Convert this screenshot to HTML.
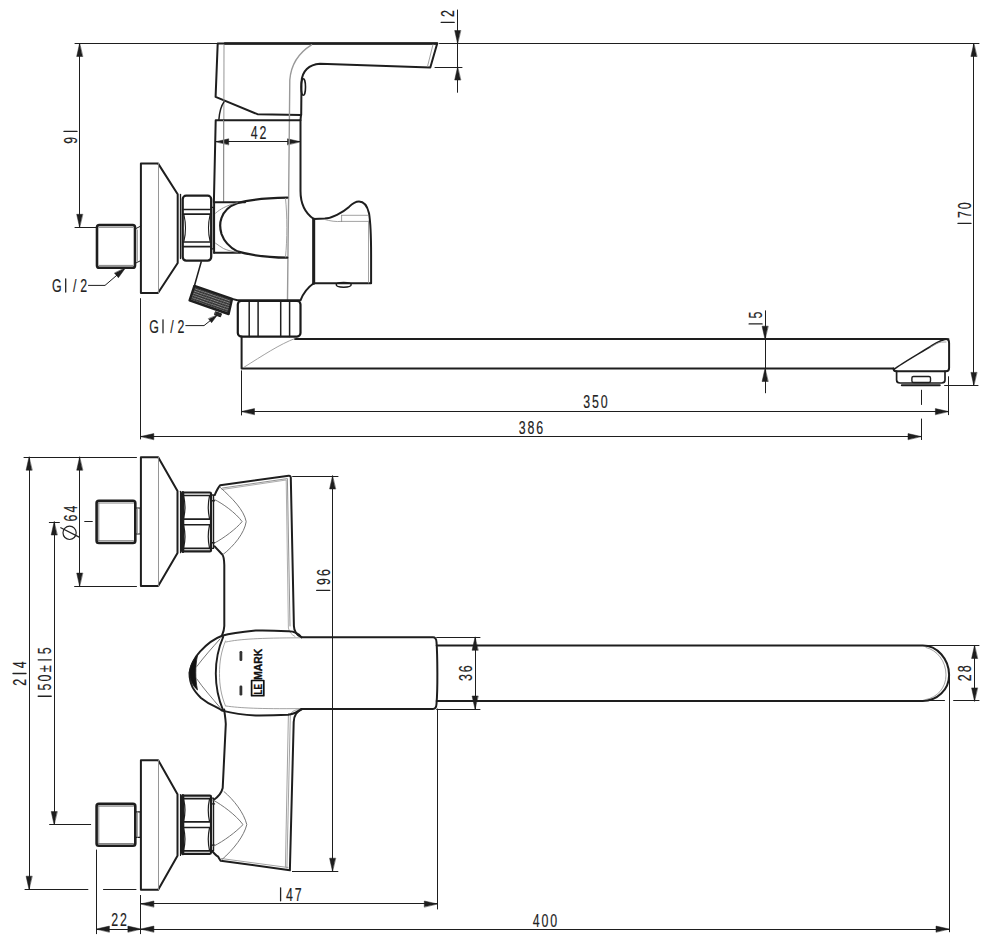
<!DOCTYPE html>
<html><head><meta charset="utf-8"><style>
html,body{margin:0;padding:0;background:#fff;}
svg{display:block;}
</style></head><body>
<svg width="990" height="949" viewBox="0 0 990 949" stroke-linecap="round" stroke-linejoin="round">
<defs><pattern id="knurl" width="2.6" height="2.3" patternUnits="userSpaceOnUse" patternTransform="rotate(19)"><rect width="2.6" height="2.3" fill="#333"/><rect x="0" y="0" width="2.6" height="0.8" fill="#8a8a8a"/><rect x="0" y="0" width="0.6" height="2.3" fill="#555"/></pattern></defs>
<rect width="990" height="949" fill="#fff"/>
<line x1="75" y1="43.5" x2="217" y2="43.5" stroke="#1e1e1e" stroke-width="1.0"/>
<line x1="439.5" y1="43.5" x2="979" y2="43.5" stroke="#1e1e1e" stroke-width="1.0"/>
<line x1="79.5" y1="43.5" x2="79.5" y2="227.3" stroke="#1e1e1e" stroke-width="1.0"/>
<path d="M79.6,43.5 L76.7,56.5 L82.5,56.5Z" fill="#1e1e1e" stroke="#1e1e1e" stroke-width="0.5"/>
<path d="M79.6,227.3 L76.7,214.3 L82.5,214.3Z" fill="#1e1e1e" stroke="#1e1e1e" stroke-width="0.5"/>
<line x1="75" y1="227.5" x2="96" y2="227.5" stroke="#1e1e1e" stroke-width="1.0"/>
<g transform="translate(70.5,135.8) rotate(-90)"><text transform="translate(-4.40,0) scale(0.68,1)" x="0" y="6.50" font-size="18.2" text-anchor="middle" fill="#222" stroke="#222" stroke-width="0.18" font-family="Liberation Sans, sans-serif">9</text><line x1="4.40" y1="-6.50" x2="4.40" y2="6.50" stroke="#222" stroke-width="1.3"/></g>
<line x1="457.5" y1="10" x2="457.5" y2="92.3" stroke="#1e1e1e" stroke-width="1.0"/>
<path d="M457.6,43.5 L454.7,30.5 L460.5,30.5Z" fill="#1e1e1e" stroke="#1e1e1e" stroke-width="0.5"/>
<path d="M457.6,67.0 L454.7,80.0 L460.5,80.0Z" fill="#1e1e1e" stroke="#1e1e1e" stroke-width="0.5"/>
<line x1="435" y1="67.5" x2="462" y2="67.5" stroke="#1e1e1e" stroke-width="1.0"/>
<g transform="translate(447.7,18.0) rotate(-90)"><line x1="-4.40" y1="-6.50" x2="-4.40" y2="6.50" stroke="#222" stroke-width="1.3"/><text transform="translate(4.40,0) scale(0.68,1)" x="0" y="6.50" font-size="18.2" text-anchor="middle" fill="#222" stroke="#222" stroke-width="0.18" font-family="Liberation Sans, sans-serif">2</text></g>
<line x1="973.5" y1="43.5" x2="973.5" y2="385.4" stroke="#1e1e1e" stroke-width="1.0"/>
<path d="M973.8,43.5 L970.9,56.5 L976.7,56.5Z" fill="#1e1e1e" stroke="#1e1e1e" stroke-width="0.5"/>
<path d="M973.8,385.4 L970.9,372.4 L976.7,372.4Z" fill="#1e1e1e" stroke="#1e1e1e" stroke-width="0.5"/>
<line x1="944.6" y1="385.5" x2="978" y2="385.5" stroke="#1e1e1e" stroke-width="1.0"/>
<g transform="translate(964.5,214.6) rotate(-90)"><line x1="-8.80" y1="-6.50" x2="-8.80" y2="6.50" stroke="#222" stroke-width="1.3"/><text transform="translate(0.00,0) scale(0.68,1)" x="0" y="6.50" font-size="18.2" text-anchor="middle" fill="#222" stroke="#222" stroke-width="0.18" font-family="Liberation Sans, sans-serif">7</text><text transform="translate(8.80,0) scale(0.68,1)" x="0" y="6.50" font-size="18.2" text-anchor="middle" fill="#222" stroke="#222" stroke-width="0.18" font-family="Liberation Sans, sans-serif">0</text></g>
<line x1="215.7" y1="141.5" x2="300.5" y2="141.5" stroke="#1e1e1e" stroke-width="1.0"/>
<path d="M215.7,141.7 L228.7,138.8 L228.7,144.6Z" fill="#1e1e1e" stroke="#1e1e1e" stroke-width="0.5"/>
<path d="M300.5,141.7 L287.5,138.8 L287.5,144.6Z" fill="#1e1e1e" stroke="#1e1e1e" stroke-width="0.5"/>
<g transform="translate(258.5,132.2)"><text transform="translate(-4.40,0) scale(0.68,1)" x="0" y="6.50" font-size="18.2" text-anchor="middle" fill="#222" stroke="#222" stroke-width="0.18" font-family="Liberation Sans, sans-serif">4</text><text transform="translate(4.40,0) scale(0.68,1)" x="0" y="6.50" font-size="18.2" text-anchor="middle" fill="#222" stroke="#222" stroke-width="0.18" font-family="Liberation Sans, sans-serif">2</text></g>
<line x1="765.5" y1="310.8" x2="765.5" y2="392.8" stroke="#1e1e1e" stroke-width="1.0"/>
<path d="M765.0,339.2 L762.1,326.2 L767.9,326.2Z" fill="#1e1e1e" stroke="#1e1e1e" stroke-width="0.5"/>
<path d="M765.0,368.5 L762.1,381.5 L767.9,381.5Z" fill="#1e1e1e" stroke="#1e1e1e" stroke-width="0.5"/>
<g transform="translate(755.6,319.5) rotate(-90)"><line x1="-4.40" y1="-6.50" x2="-4.40" y2="6.50" stroke="#222" stroke-width="1.3"/><text transform="translate(4.40,0) scale(0.68,1)" x="0" y="6.50" font-size="18.2" text-anchor="middle" fill="#222" stroke="#222" stroke-width="0.18" font-family="Liberation Sans, sans-serif">5</text></g>
<line x1="241.5" y1="370.8" x2="241.5" y2="415" stroke="#1e1e1e" stroke-width="1.0"/>
<line x1="241.5" y1="411.5" x2="948.4" y2="411.5" stroke="#1e1e1e" stroke-width="1.0"/>
<path d="M241.5,411.5 L254.5,408.6 L254.5,414.4Z" fill="#1e1e1e" stroke="#1e1e1e" stroke-width="0.5"/>
<path d="M948.4,411.5 L935.4,408.6 L935.4,414.4Z" fill="#1e1e1e" stroke="#1e1e1e" stroke-width="0.5"/>
<line x1="948.5" y1="376.7" x2="948.5" y2="414.7" stroke="#1e1e1e" stroke-width="1.0"/>
<g transform="translate(595.5,401.5)"><text transform="translate(-8.80,0) scale(0.68,1)" x="0" y="6.50" font-size="18.2" text-anchor="middle" fill="#222" stroke="#222" stroke-width="0.18" font-family="Liberation Sans, sans-serif">3</text><text transform="translate(0.00,0) scale(0.68,1)" x="0" y="6.50" font-size="18.2" text-anchor="middle" fill="#222" stroke="#222" stroke-width="0.18" font-family="Liberation Sans, sans-serif">5</text><text transform="translate(8.80,0) scale(0.68,1)" x="0" y="6.50" font-size="18.2" text-anchor="middle" fill="#222" stroke="#222" stroke-width="0.18" font-family="Liberation Sans, sans-serif">0</text></g>
<line x1="140.5" y1="298.6" x2="140.5" y2="439" stroke="#1e1e1e" stroke-width="1.0"/>
<line x1="140.8" y1="436.5" x2="921" y2="436.5" stroke="#1e1e1e" stroke-width="1.0"/>
<path d="M140.8,436.5 L153.8,433.6 L153.8,439.4Z" fill="#1e1e1e" stroke="#1e1e1e" stroke-width="0.5"/>
<path d="M921.0,436.5 L908.0,433.6 L908.0,439.4Z" fill="#1e1e1e" stroke="#1e1e1e" stroke-width="0.5"/>
<line x1="921.5" y1="390.2" x2="921.5" y2="404.5" stroke="#1e1e1e" stroke-width="1.0"/>
<line x1="921.5" y1="419" x2="921.5" y2="439.6" stroke="#1e1e1e" stroke-width="1.0"/>
<g transform="translate(531,427.3)"><text transform="translate(-8.80,0) scale(0.68,1)" x="0" y="6.50" font-size="18.2" text-anchor="middle" fill="#222" stroke="#222" stroke-width="0.18" font-family="Liberation Sans, sans-serif">3</text><text transform="translate(0.00,0) scale(0.68,1)" x="0" y="6.50" font-size="18.2" text-anchor="middle" fill="#222" stroke="#222" stroke-width="0.18" font-family="Liberation Sans, sans-serif">8</text><text transform="translate(8.80,0) scale(0.68,1)" x="0" y="6.50" font-size="18.2" text-anchor="middle" fill="#222" stroke="#222" stroke-width="0.18" font-family="Liberation Sans, sans-serif">6</text></g>
<g transform="translate(70.2,285.5)"><text transform="translate(-13.50,0) scale(0.68,1)" x="0" y="6.50" font-size="18.2" text-anchor="middle" fill="#222" stroke="#222" stroke-width="0.18" font-family="Liberation Sans, sans-serif">G</text><line x1="-4.50" y1="-6.50" x2="-4.50" y2="6.50" stroke="#222" stroke-width="1.3"/><text transform="translate(4.50,0) scale(0.68,1)" x="0" y="6.50" font-size="18.2" text-anchor="middle" fill="#222" stroke="#222" stroke-width="0.18" font-family="Liberation Sans, sans-serif">/</text><text transform="translate(13.50,0) scale(0.68,1)" x="0" y="6.50" font-size="18.2" text-anchor="middle" fill="#222" stroke="#222" stroke-width="0.18" font-family="Liberation Sans, sans-serif">2</text></g>
<path d="M88.5,285.4 L105,285.4 L125.6,267.7" stroke="#1e1e1e" stroke-width="1.0" fill="none" />
<path d="M125.6,267.7 L118.4,277.7 L114.6,273.3Z" fill="#1e1e1e" stroke="#1e1e1e" stroke-width="0.5"/>
<g transform="translate(167.5,326.3)"><text transform="translate(-13.50,0) scale(0.68,1)" x="0" y="6.50" font-size="18.2" text-anchor="middle" fill="#222" stroke="#222" stroke-width="0.18" font-family="Liberation Sans, sans-serif">G</text><line x1="-4.50" y1="-6.50" x2="-4.50" y2="6.50" stroke="#222" stroke-width="1.3"/><text transform="translate(4.50,0) scale(0.68,1)" x="0" y="6.50" font-size="18.2" text-anchor="middle" fill="#222" stroke="#222" stroke-width="0.18" font-family="Liberation Sans, sans-serif">/</text><text transform="translate(13.50,0) scale(0.68,1)" x="0" y="6.50" font-size="18.2" text-anchor="middle" fill="#222" stroke="#222" stroke-width="0.18" font-family="Liberation Sans, sans-serif">2</text></g>
<path d="M185.8,325.6 L204,325.6 L217.7,314.7" stroke="#1e1e1e" stroke-width="1.0" fill="none" />
<path d="M217.2,315.2 L211.6,322.7 L208.6,318.9Z" fill="#1e1e1e" stroke="#1e1e1e" stroke-width="0.5"/>
<path d="M217.7,43.5 L437.2,43.5 L430.3,67.5 L320,63.8 C309,64.5 302,71 301.5,82 L301.2,115 L257.5,114.2 L215.6,96.9 Z" stroke="#1e1e1e" stroke-width="2.0" fill="none" />
<line x1="225" y1="43.5" x2="437" y2="43.5" stroke="#1e1e1e" stroke-width="2.6"/>
<path d="M311.5,44.8 C300,52 291,64 289.8,80 L288.6,200 C288,230 288,270 287.5,300" stroke="#999" stroke-width="1.4" fill="none" />
<line x1="224" y1="45" x2="223.7" y2="201" stroke="#8a8a8a" stroke-width="0.9"/>
<ellipse cx="303.3" cy="87" rx="2.2" ry="8.3" fill="none" stroke="#1a1a1a" stroke-width="1.6"/>
<path d="M218.9,119.5 C219.5,112 221,106 224,101.9" stroke="#1e1e1e" stroke-width="1.5" fill="none" />
<path d="M433,44.5 L427.5,66.5" stroke="#8a8a8a" stroke-width="0.8" fill="none" />
<path d="M301,115.2 L300.5,120.2 L215.7,120.2 L213.9,201.8" stroke="#1e1e1e" stroke-width="2.0" fill="none" />
<path d="M300.5,120.2 L300.5,191 C300.5,205 305,213 313.7,219" stroke="#1e1e1e" stroke-width="2.0" fill="none" />
<line x1="223.5" y1="120.2" x2="223.5" y2="201.5" stroke="#8a8a8a" stroke-width="0.9"/>
<path d="M213.9,202.3 L245,202.3" stroke="#1e1e1e" stroke-width="2.0" fill="none" />
<path d="M214,252.7 L240,252.7" stroke="#1e1e1e" stroke-width="2.0" fill="none" />
<line x1="214.1" y1="202.3" x2="214.1" y2="252.7" stroke="#1e1e1e" stroke-width="2.0"/>
<path d="M287.3,197.7 C270,198 250,199.5 237.3,203.2 C229,206 223.6,212 221.5,218 C220,222 220,229 221.5,234 C223.6,240 229,247 237.3,251.4 C250,255 270,257.5 287.3,257.7" stroke="#1e1e1e" stroke-width="2.2" fill="none" />
<path d="M215.5,213.2 C218,211 221,209 223.6,207.7 C228,205.5 232,204 237.3,202.7 M215.5,243.2 C218,245 221,247 223.6,248.6 C228,250.5 232,251.5 237.3,252.3" stroke="#888" stroke-width="0.9" fill="none" />
<path d="M285.5,198.5 C287.3,215 287.3,240 285.5,257" stroke="#999" stroke-width="0.9" fill="none" />
<path d="M140.9,163.4 L158,163.4 L177.7,194.3 L177.7,263 L158,293 L140.9,293 Z" stroke="#1e1e1e" stroke-width="2.0" fill="none" />
<line x1="158.5" y1="163.4" x2="158.5" y2="293" stroke="#8a8a8a" stroke-width="0.9"/>
<line x1="180.5" y1="194.5" x2="180.5" y2="258.5" stroke="#1e1e1e" stroke-width="1.3"/>
<rect x="97" y="225" width="38" height="42.7" rx="2.3" fill="none" stroke="#1e1e1e" stroke-width="2.6"/>
<path d="M99,227.3 L133,227.3 M99,265.4 L133,265.4" stroke="#777" stroke-width="0.9" fill="none" />
<path d="M135,229 L140.9,226 M135,263.5 L140.9,260.5" stroke="#1e1e1e" stroke-width="1.0" fill="none" />
<line x1="137.5" y1="230" x2="137.5" y2="262" stroke="#8a8a8a" stroke-width="0.8"/>
<rect x="182.7" y="195.7" width="28.5" height="64.9" rx="3.5" fill="none" stroke="#1e1e1e" stroke-width="2.3"/>
<path d="M182.7,209.5 L211.2,209.5 M182.7,214.2 L211.2,214.2 M182.7,242 L211.2,242 M182.7,246.6 L211.2,246.6" stroke="#1e1e1e" stroke-width="1.7" fill="none" />
<path d="M184,215 Q187,228 184,241 M210,215 Q207,228 210,241" stroke="#1e1e1e" stroke-width="1.1" fill="none" />
<path d="M211.2,207.4 L213.5,207.4 L213.5,248.8 L211.2,248.8" stroke="#1e1e1e" stroke-width="1.3" fill="none" />
<path d="M201.2,261.9 L194.4,285.9" stroke="#1e1e1e" stroke-width="1.6" fill="none" />
<path d="M194.4,285.9 L232,298.9 L228.6,314 L189.6,300.3 Z" stroke="#1e1e1e" stroke-width="2.4" fill="url(#knurl)" />
<path d="M215.8,311.8 L221.5,313.8 L220.5,316.8 L214.8,314.8 Z" stroke="#1e1e1e" stroke-width="1.0" fill="#2a2a2a" />
<path d="M232,298.9 L237.5,300.3 L300.5,300.3 C303,294 307,288 313.7,283.3" stroke="#1e1e1e" stroke-width="2.0" fill="none" />
<path d="M313.7,219 L324.8,218.5 C332,218 342,213 349,206.9 C352,204 355,201.6 359,201.6 C364,201.6 367,205 369,213.2 C371,225 371.1,240 371.1,255 L371.1,283.3 L313.7,283.3 Z" stroke="#1e1e1e" stroke-width="2.0" fill="none" />
<line x1="313.7" y1="219" x2="313.7" y2="283.3" stroke="#1e1e1e" stroke-width="3.0"/>
<path d="M341.6,215.3 L368,215.3 M341.6,221.4 L368,221.4 M341.6,215.3 L341.6,221.4" stroke="#8a8a8a" stroke-width="0.8" fill="none" />
<path d="M324.8,219.5 C330,221 336,222 341.6,221.4" stroke="#8a8a8a" stroke-width="0.8" fill="none" />
<line x1="368.5" y1="221" x2="368.5" y2="283" stroke="#8a8a8a" stroke-width="0.8"/>
<ellipse cx="343.7" cy="284.8" rx="7.5" ry="2.4" fill="none" stroke="#1a1a1a" stroke-width="1.4"/>
<rect x="237.8" y="301" width="62.7" height="35.6" rx="3.5" fill="none" stroke="#1a1a1a" stroke-width="2.2"/>
<path d="M249.2,301 L249.2,336.6 M258.1,301 L258.1,336.6 M280.7,301 L280.7,336.6 M289.6,301 L289.6,336.6" stroke="#1e1e1e" stroke-width="1.5" fill="none" />
<path d="M241.6,336.6 L241.6,368.6 L893.5,368.6" stroke="#1e1e1e" stroke-width="2.0" fill="none" />
<path d="M295,339 L946,339 C948,339 949.1,340.5 949.1,343 L949.1,368 C949.1,370 948,371.2 946,371.2 L896,371.2 C894.5,371.2 893.5,370.3 893.5,368.6" stroke="#1e1e1e" stroke-width="2.0" fill="none" />
<path d="M893.7,369.6 C903,362.5 922,352 932,345.5 C938,341.5 943,339.2 948.7,339" stroke="#1e1e1e" stroke-width="1.5" fill="none" />
<path d="M930,347.5 C935,344.5 938,342.5 941.4,342.1 L946,342" stroke="#8a8a8a" stroke-width="0.8" fill="none" />
<path d="M295,338.5 C280,344 262,356 244.4,367" stroke="#8a8a8a" stroke-width="0.8" fill="none" />
<path d="M896.6,371.2 L896.6,380 C896.6,382 898,383 900,383 L941.5,383 C943.5,383 945,382 945,380 L945,371.2" stroke="#1e1e1e" stroke-width="1.7" fill="none" />
<rect x="911.9" y="376.5" width="18.6" height="6" rx="1.5" fill="none" stroke="#1e1e1e" stroke-width="1.4"/>
<line x1="901.8" y1="385.3" x2="939.8" y2="385.3" stroke="#1e1e1e" stroke-width="2.0"/>
<line x1="24" y1="457.5" x2="136.5" y2="457.5" stroke="#1e1e1e" stroke-width="1.0"/>
<line x1="29.5" y1="457.2" x2="29.5" y2="889.2" stroke="#1e1e1e" stroke-width="1.0"/>
<path d="M29.0,457.2 L26.1,470.2 L31.9,470.2Z" fill="#1e1e1e" stroke="#1e1e1e" stroke-width="0.5"/>
<path d="M29.0,889.2 L26.1,876.2 L31.9,876.2Z" fill="#1e1e1e" stroke="#1e1e1e" stroke-width="0.5"/>
<g transform="translate(19.5,673.5) rotate(-90)"><text transform="translate(-8.80,0) scale(0.68,1)" x="0" y="6.50" font-size="18.2" text-anchor="middle" fill="#222" stroke="#222" stroke-width="0.18" font-family="Liberation Sans, sans-serif">2</text><line x1="0.00" y1="-6.50" x2="0.00" y2="6.50" stroke="#222" stroke-width="1.3"/><text transform="translate(8.80,0) scale(0.68,1)" x="0" y="6.50" font-size="18.2" text-anchor="middle" fill="#222" stroke="#222" stroke-width="0.18" font-family="Liberation Sans, sans-serif">4</text></g>
<line x1="79.5" y1="457.2" x2="79.5" y2="586.1" stroke="#1e1e1e" stroke-width="1.0"/>
<path d="M79.6,457.2 L76.7,470.2 L82.5,470.2Z" fill="#1e1e1e" stroke="#1e1e1e" stroke-width="0.5"/>
<path d="M79.6,586.1 L76.7,573.1 L82.5,573.1Z" fill="#1e1e1e" stroke="#1e1e1e" stroke-width="0.5"/>
<line x1="74.6" y1="586.5" x2="136.5" y2="586.5" stroke="#1e1e1e" stroke-width="1.0"/>
<g transform="translate(70.2,513.6) rotate(-90)"><text transform="translate(-4.45,0) scale(0.68,1)" x="0" y="6.50" font-size="18.2" text-anchor="middle" fill="#222" stroke="#222" stroke-width="0.18" font-family="Liberation Sans, sans-serif">6</text><text transform="translate(4.45,0) scale(0.68,1)" x="0" y="6.50" font-size="18.2" text-anchor="middle" fill="#222" stroke="#222" stroke-width="0.18" font-family="Liberation Sans, sans-serif">4</text></g>
<ellipse cx="69.6" cy="532.8" rx="6.6" ry="6.7" fill="none" stroke="#222" stroke-width="1.2"/>
<line x1="60.8" y1="527.7" x2="79.2" y2="537.1" stroke="#222" stroke-width="1.2"/>
<line x1="84.7" y1="521.5" x2="92.3" y2="521.5" stroke="#1e1e1e" stroke-width="1.0"/>
<line x1="49.3" y1="522.5" x2="59.4" y2="522.5" stroke="#1e1e1e" stroke-width="1.0"/>
<line x1="54.5" y1="522" x2="54.5" y2="824.6" stroke="#1e1e1e" stroke-width="1.0"/>
<path d="M54.1,522.0 L51.2,535.0 L57.0,535.0Z" fill="#1e1e1e" stroke="#1e1e1e" stroke-width="0.5"/>
<path d="M54.1,824.6 L51.2,811.6 L57.0,811.6Z" fill="#1e1e1e" stroke="#1e1e1e" stroke-width="0.5"/>
<g transform="translate(44.7,673.5) rotate(-90)"><line x1="-22.75" y1="-6.50" x2="-22.75" y2="6.50" stroke="#222" stroke-width="1.3"/><text transform="translate(-13.65,0) scale(0.68,1)" x="0" y="6.50" font-size="18.2" text-anchor="middle" fill="#222" stroke="#222" stroke-width="0.18" font-family="Liberation Sans, sans-serif">5</text><text transform="translate(-4.55,0) scale(0.68,1)" x="0" y="6.50" font-size="18.2" text-anchor="middle" fill="#222" stroke="#222" stroke-width="0.18" font-family="Liberation Sans, sans-serif">0</text><text transform="translate(4.55,0) scale(0.68,1)" x="0" y="6.50" font-size="18.2" text-anchor="middle" fill="#222" stroke="#222" stroke-width="0.18" font-family="Liberation Sans, sans-serif">±</text><line x1="13.65" y1="-6.50" x2="13.65" y2="6.50" stroke="#222" stroke-width="1.3"/><text transform="translate(22.75,0) scale(0.68,1)" x="0" y="6.50" font-size="18.2" text-anchor="middle" fill="#222" stroke="#222" stroke-width="0.18" font-family="Liberation Sans, sans-serif">5</text></g>
<line x1="49.6" y1="824.5" x2="90.7" y2="824.5" stroke="#1e1e1e" stroke-width="1.0"/>
<line x1="25" y1="889.5" x2="87.9" y2="889.5" stroke="#1e1e1e" stroke-width="1.0"/>
<line x1="103.5" y1="889.5" x2="136" y2="889.5" stroke="#1e1e1e" stroke-width="1.0"/>
<line x1="292.6" y1="476.5" x2="338" y2="476.5" stroke="#1e1e1e" stroke-width="1.0"/>
<line x1="292.4" y1="871.5" x2="337.9" y2="871.5" stroke="#1e1e1e" stroke-width="1.0"/>
<line x1="332.5" y1="476" x2="332.5" y2="871.2" stroke="#1e1e1e" stroke-width="1.0"/>
<path d="M332.5,476.0 L329.6,489.0 L335.4,489.0Z" fill="#1e1e1e" stroke="#1e1e1e" stroke-width="0.5"/>
<path d="M332.5,871.2 L329.6,858.2 L335.4,858.2Z" fill="#1e1e1e" stroke="#1e1e1e" stroke-width="0.5"/>
<g transform="translate(323.2,581.5) rotate(-90)"><line x1="-8.95" y1="-6.50" x2="-8.95" y2="6.50" stroke="#222" stroke-width="1.3"/><text transform="translate(0.00,0) scale(0.68,1)" x="0" y="6.50" font-size="18.2" text-anchor="middle" fill="#222" stroke="#222" stroke-width="0.18" font-family="Liberation Sans, sans-serif">9</text><text transform="translate(8.95,0) scale(0.68,1)" x="0" y="6.50" font-size="18.2" text-anchor="middle" fill="#222" stroke="#222" stroke-width="0.18" font-family="Liberation Sans, sans-serif">6</text></g>
<line x1="436.7" y1="637.5" x2="480" y2="637.5" stroke="#1e1e1e" stroke-width="1.0"/>
<line x1="436.7" y1="709.5" x2="480" y2="709.5" stroke="#1e1e1e" stroke-width="1.0"/>
<line x1="475.5" y1="637.3" x2="475.5" y2="709" stroke="#1e1e1e" stroke-width="1.0"/>
<path d="M475.0,637.3 L472.1,650.3 L477.9,650.3Z" fill="#1e1e1e" stroke="#1e1e1e" stroke-width="0.5"/>
<path d="M475.0,709.0 L472.1,696.0 L477.9,696.0Z" fill="#1e1e1e" stroke="#1e1e1e" stroke-width="0.5"/>
<g transform="translate(465.8,673.2) rotate(-90)"><text transform="translate(-4.40,0) scale(0.68,1)" x="0" y="6.50" font-size="18.2" text-anchor="middle" fill="#222" stroke="#222" stroke-width="0.18" font-family="Liberation Sans, sans-serif">3</text><text transform="translate(4.40,0) scale(0.68,1)" x="0" y="6.50" font-size="18.2" text-anchor="middle" fill="#222" stroke="#222" stroke-width="0.18" font-family="Liberation Sans, sans-serif">6</text></g>
<line x1="924" y1="645.5" x2="979" y2="645.5" stroke="#1e1e1e" stroke-width="1.0"/>
<line x1="953.6" y1="700.5" x2="979" y2="700.5" stroke="#1e1e1e" stroke-width="1.0"/>
<line x1="926.4" y1="700.5" x2="944.5" y2="700.5" stroke="#1e1e1e" stroke-width="1.0"/>
<line x1="974.5" y1="645.5" x2="974.5" y2="700.9" stroke="#1e1e1e" stroke-width="1.0"/>
<path d="M974.5,645.5 L971.6,658.5 L977.4,658.5Z" fill="#1e1e1e" stroke="#1e1e1e" stroke-width="0.5"/>
<path d="M974.5,700.9 L971.6,687.9 L977.4,687.9Z" fill="#1e1e1e" stroke="#1e1e1e" stroke-width="0.5"/>
<g transform="translate(964.7,673.3) rotate(-90)"><text transform="translate(-4.40,0) scale(0.68,1)" x="0" y="6.50" font-size="18.2" text-anchor="middle" fill="#222" stroke="#222" stroke-width="0.18" font-family="Liberation Sans, sans-serif">2</text><text transform="translate(4.40,0) scale(0.68,1)" x="0" y="6.50" font-size="18.2" text-anchor="middle" fill="#222" stroke="#222" stroke-width="0.18" font-family="Liberation Sans, sans-serif">8</text></g>
<line x1="96.5" y1="850" x2="96.5" y2="933.7" stroke="#1e1e1e" stroke-width="1.0"/>
<line x1="140.5" y1="895.4" x2="140.5" y2="933.7" stroke="#1e1e1e" stroke-width="1.0"/>
<line x1="437.5" y1="709" x2="437.5" y2="909" stroke="#1e1e1e" stroke-width="1.0"/>
<line x1="949.5" y1="673" x2="949.5" y2="931.8" stroke="#1e1e1e" stroke-width="1.0"/>
<line x1="140.9" y1="903.5" x2="437.3" y2="903.5" stroke="#1e1e1e" stroke-width="1.0"/>
<path d="M140.9,903.9 L153.9,901.0 L153.9,906.8Z" fill="#1e1e1e" stroke="#1e1e1e" stroke-width="0.5"/>
<path d="M437.3,903.9 L424.3,901.0 L424.3,906.8Z" fill="#1e1e1e" stroke="#1e1e1e" stroke-width="0.5"/>
<g transform="translate(289.4,894.3)"><line x1="-8.80" y1="-6.50" x2="-8.80" y2="6.50" stroke="#222" stroke-width="1.3"/><text transform="translate(0.00,0) scale(0.68,1)" x="0" y="6.50" font-size="18.2" text-anchor="middle" fill="#222" stroke="#222" stroke-width="0.18" font-family="Liberation Sans, sans-serif">4</text><text transform="translate(8.80,0) scale(0.68,1)" x="0" y="6.50" font-size="18.2" text-anchor="middle" fill="#222" stroke="#222" stroke-width="0.18" font-family="Liberation Sans, sans-serif">7</text></g>
<line x1="96.4" y1="929.5" x2="949" y2="929.5" stroke="#1e1e1e" stroke-width="1.0"/>
<path d="M96.4,929.0 L109.4,926.1 L109.4,931.9Z" fill="#1e1e1e" stroke="#1e1e1e" stroke-width="0.5"/>
<path d="M140.9,929.0 L127.9,926.1 L127.9,931.9Z" fill="#1e1e1e" stroke="#1e1e1e" stroke-width="0.5"/>
<path d="M140.9,929.0 L153.9,926.1 L153.9,931.9Z" fill="#1e1e1e" stroke="#1e1e1e" stroke-width="0.5"/>
<path d="M949.0,929.0 L936.0,926.1 L936.0,931.9Z" fill="#1e1e1e" stroke="#1e1e1e" stroke-width="0.5"/>
<g transform="translate(119,919.5)"><text transform="translate(-4.40,0) scale(0.68,1)" x="0" y="6.50" font-size="18.2" text-anchor="middle" fill="#222" stroke="#222" stroke-width="0.18" font-family="Liberation Sans, sans-serif">2</text><text transform="translate(4.40,0) scale(0.68,1)" x="0" y="6.50" font-size="18.2" text-anchor="middle" fill="#222" stroke="#222" stroke-width="0.18" font-family="Liberation Sans, sans-serif">2</text></g>
<g transform="translate(545,920)"><text transform="translate(-8.80,0) scale(0.68,1)" x="0" y="6.50" font-size="18.2" text-anchor="middle" fill="#222" stroke="#222" stroke-width="0.18" font-family="Liberation Sans, sans-serif">4</text><text transform="translate(0.00,0) scale(0.68,1)" x="0" y="6.50" font-size="18.2" text-anchor="middle" fill="#222" stroke="#222" stroke-width="0.18" font-family="Liberation Sans, sans-serif">0</text><text transform="translate(8.80,0) scale(0.68,1)" x="0" y="6.50" font-size="18.2" text-anchor="middle" fill="#222" stroke="#222" stroke-width="0.18" font-family="Liberation Sans, sans-serif">0</text></g>
<path d="M140.9,457.2 L158.2,457.2 L177.5,491.0 L177.5,553.0 L158.2,586.1 L140.9,586.1 Z" stroke="#1e1e1e" stroke-width="2.0" fill="none" />
<line x1="158.5" y1="457.2" x2="158.5" y2="586.1" stroke="#8a8a8a" stroke-width="0.9"/>
<line x1="180.5" y1="491.3" x2="180.5" y2="552.7" stroke="#1e1e1e" stroke-width="1.15"/>
<path d="M140.9,760.2 L158.2,760.2 L177.5,794.2 L177.5,855.8 L158.2,889.7 L140.9,889.7 Z" stroke="#1e1e1e" stroke-width="2.0" fill="none" />
<line x1="158.5" y1="760.2" x2="158.5" y2="889.7" stroke="#8a8a8a" stroke-width="0.9"/>
<line x1="180.5" y1="794.5" x2="180.5" y2="855.5" stroke="#1e1e1e" stroke-width="1.15"/>
<rect x="96.6" y="500.7" width="38.7" height="42.30000000000001" rx="2.3" fill="none" stroke="#1e1e1e" stroke-width="2.6"/>
<path d="M98.5,503.0 L133.5,503.0 M98.5,540.7 L133.5,540.7 M98.8,502.7 L98.8,541" stroke="#777" stroke-width="0.9" fill="none" />
<path d="M135.3,508 L140.3,508 L140.3,534 L135.3,534" stroke="#1e1e1e" stroke-width="1.2" fill="none" />
<line x1="137.5" y1="508" x2="137.5" y2="534" stroke="#8a8a8a" stroke-width="0.8"/>
<rect x="96.6" y="803.9" width="38.7" height="41.89999999999998" rx="2.3" fill="none" stroke="#1e1e1e" stroke-width="2.6"/>
<path d="M98.5,806.1999999999999 L133.5,806.1999999999999 M98.5,843.5 L133.5,843.5 M98.8,805.9 L98.8,843.8" stroke="#777" stroke-width="0.9" fill="none" />
<path d="M135.3,811.8 L140.3,811.8 L140.3,837.3 L135.3,837.3" stroke="#1e1e1e" stroke-width="1.2" fill="none" />
<line x1="137.5" y1="811.8" x2="137.5" y2="837.3" stroke="#8a8a8a" stroke-width="0.8"/>
<rect x="182" y="492.5" width="29" height="58.89999999999998" rx="1.2" fill="none" stroke="#1e1e1e" stroke-width="2.2"/>
<line x1="182.8" y1="492.5" x2="182.8" y2="551.4" stroke="#1e1e1e" stroke-width="3.0"/>
<path d="M182,495.5 L211,495.5 M182,548.4 L211,548.4 M182,519.1500000000001 L211,519.1500000000001 M182,524.75 L211,524.75" stroke="#1e1e1e" stroke-width="1.7" fill="none" />
<path d="M183.5,496.0 Q186.5,507.225 183.5,518.6500000000001 M209.5,496.0 Q207,507.225 209.5,518.6500000000001 M183.5,525.25 Q186.5,536.675 183.5,547.9 M209.5,525.25 Q207,536.675 209.5,547.9" stroke="#1e1e1e" stroke-width="1.2" fill="none" />
<path d="M211,495.0 L213.5,495.0 L213.5,548.4 L211,548.4" stroke="#1e1e1e" stroke-width="1.4" fill="none" />
<path d="M211.5,500.8 L214.5,500.8 M211.5,542.6999999999999 L214.5,542.6999999999999" stroke="#1e1e1e" stroke-width="1.4" fill="none" />
<rect x="182" y="795.6" width="29" height="58.19999999999993" rx="1.2" fill="none" stroke="#1e1e1e" stroke-width="2.2"/>
<line x1="182.8" y1="795.6" x2="182.8" y2="853.8" stroke="#1e1e1e" stroke-width="3.0"/>
<path d="M182,798.6 L211,798.6 M182,850.8 L211,850.8 M182,821.9000000000001 L211,821.9000000000001 M182,827.5 L211,827.5" stroke="#1e1e1e" stroke-width="1.7" fill="none" />
<path d="M183.5,799.1 Q186.5,810.1500000000001 183.5,821.4000000000001 M209.5,799.1 Q207,810.1500000000001 209.5,821.4000000000001 M183.5,828.0 Q186.5,839.25 183.5,850.3 M209.5,828.0 Q207,839.25 209.5,850.3" stroke="#1e1e1e" stroke-width="1.2" fill="none" />
<path d="M211,798.1 L213.5,798.1 L213.5,850.8 L211,850.8" stroke="#1e1e1e" stroke-width="1.4" fill="none" />
<path d="M211.5,803.9 L214.5,803.9 M211.5,845.0999999999999 L214.5,845.0999999999999" stroke="#1e1e1e" stroke-width="1.4" fill="none" />
<path d="M214.7,495 C216.5,491 218,487.5 220.2,485.3 L288.7,475.8 C290,475.6 290.8,476.5 290.8,477.8 L293.9,626 C294,631 297,636 301.4,637.3" stroke="#1e1e1e" stroke-width="2.0" fill="none" />
<path d="M214.7,546.3 C217,549 220,552 222.3,554.5 C223.5,556 224.2,560 224.3,565 L224.3,626 C224.3,630 223,633 221.7,636.2" stroke="#1e1e1e" stroke-width="2.0" fill="none" />
<path d="M222,489.5 L286.2,480 L288.4,628 C289,632 292,635 295,636.5" stroke="#999" stroke-width="0.8" fill="none" />
<path d="M222.5,488 L287.4,478.6 L290,626" stroke="#777" stroke-width="0.8" fill="none" />
<path d="M220.2,487.4 C232,498 244,510 246.2,521.6 C244.5,533 234,546 223,554.5" stroke="#777" stroke-width="1.0" fill="none" />
<path d="M214.7,499.7 C222,503 236,513 242.1,521.6 C236,529 224,538 214.7,542.9" stroke="#777" stroke-width="1.0" fill="none" />
<path d="M224.2,709.5 C224.5,713 225.5,718 225.8,724 L222.7,788 C221.5,793 218,797 213.6,800" stroke="#1e1e1e" stroke-width="2.0" fill="none" />
<path d="M301.6,709.5 C297,711 293.7,716 293.7,722 L289.9,869.3" stroke="#1e1e1e" stroke-width="2.0" fill="none" />
<path d="M299,709.5 C294,710 290.3,712 290.3,716 L286.9,868" stroke="#8a8a8a" stroke-width="0.8" fill="none" />
<line x1="288.4" y1="714" x2="285.4" y2="867" stroke="#8a8a8a" stroke-width="0.8"/>
<path d="M211.5,850.5 C214,853 216.5,856 217.7,856.2 C219,858 220,860 220.7,860.7 L289.9,870.3" stroke="#1e1e1e" stroke-width="2.0" fill="none" />
<path d="M221,858.5 L288,867.5" stroke="#8a8a8a" stroke-width="0.8" fill="none" />
<path d="M213.9,800.5 C222,805 236,815 243,824.6 C236,832 224,841 213.9,846" stroke="#777" stroke-width="1.0" fill="none" />
<path d="M224,791.6 C234,800 244,813 246.8,824.6 C244,836 234,849 221.5,860" stroke="#777" stroke-width="1.0" fill="none" />
<path d="M301.4,637.3 L433,637.3 C435.5,637.3 436.3,639 436.5,642 C437.5,655 437.8,690 436.5,704 C436.3,707.5 435.5,709 433,709 L301,709" stroke="#1e1e1e" stroke-width="2.0" fill="none" />
<path d="M301.4,637.3 C299,634 296,631 288,631.2 C275,630.5 262,630.3 255.6,630.5 C240,632 228,634 222.1,635.8 C216,638 207,644 200,651.6 C195,657 191,665 189.5,672.7 C189.5,679 191,684 192.6,687.4 C195,692 198,695 201,698 C206,702 210,704.5 214.8,706.4 C217,707.5 220,709 222.1,710.6 C235,714 245,715 255.6,715.4 C270,715.5 282,715 288,714.7 C294,714 298,712 301,709" stroke="#1e1e1e" stroke-width="2.0" fill="none" />
<path d="M197.5,655.5 C192,661 189.5,667 189.5,672.7 C189.5,679 192,685 197.5,690 C196.2,684 195.8,678 195.8,672.7 C195.8,667 196.2,661 197.5,655.5 Z" stroke="#1e1e1e" stroke-width="0.8" fill="#111" />
<path d="M223.2,636.9 C217.5,650 215.8,662 215.8,673.5 C215.8,685 217.5,697 223.2,710.6" stroke="#1e1e1e" stroke-width="1.9" fill="none" />
<path d="M225.5,641 C221,652 219.5,662 219.5,673.5 C219.5,685 221,695 225.5,706" stroke="#999" stroke-width="0.9" fill="none" />
<path d="M220,639 C212,648 203,658 196.9,666.4 M196.9,679 C203,688 212,698 220,707.5" stroke="#666" stroke-width="0.9" fill="none" />
<path d="M226,642 C240,639 260,638 300,637.8" stroke="#8a8a8a" stroke-width="0.8" fill="none" />
<path d="M226,706 C240,708 260,709 300,708.6" stroke="#8a8a8a" stroke-width="0.8" fill="none" />
<path d="M436.7,645.5 L922.7,645.5 C937,645.5 949.1,659 949.1,675 C949.1,690 937,700.9 922.7,700.9 L436.7,700.9" stroke="#1e1e1e" stroke-width="2.0" fill="none" />
<path d="M926,647.5 C937,650 946,661 946,675 C946,688 937,697.5 926,699.5" stroke="#8a8a8a" stroke-width="0.8" fill="none" />
<rect x="239.5" y="651" width="2.8" height="10" rx="1.2" fill="#333"/>
<rect x="239.5" y="685.5" width="2.8" height="10" rx="1.2" fill="#333"/>
<text transform="translate(261.6,680) rotate(-90) scale(0.93,1)" font-size="11.2" font-weight="bold" fill="#111" stroke="#111" stroke-width="0.35" font-family="Liberation Sans, sans-serif">MARK</text>
<rect x="251.6" y="680.5" width="12.2" height="15.2" fill="none" stroke="#111" stroke-width="1.7"/>
<text transform="translate(261.6,694.6) rotate(-90) scale(0.82,1)" font-size="10" font-weight="bold" fill="#111" stroke="#111" stroke-width="0.3" font-family="Liberation Sans, sans-serif">LE</text>
</svg></body></html>
